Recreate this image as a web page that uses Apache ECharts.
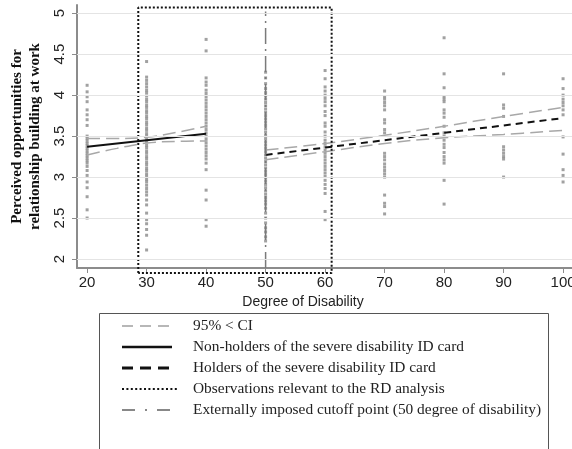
<!DOCTYPE html>
<html>
<head>
<meta charset="utf-8">
<script src="https://cdn.jsdelivr.net/npm/echarts@6/dist/echarts.min.js"></script>
<style>html,body{margin:0;padding:0;background:#fff}#c{width:572px;height:449px}</style>
</head>
<body>
<div id="c"></div>
<script>
// ---- data ----
const xTicks = [20, 30, 40, 50, 60, 70, 80, 90, 100];
const yTicks = [2, 2.5, 3, 3.5, 4, 4.5, 5];

const obs20 = [4.12, 4.04, 3.98, 3.92, 3.82, 3.76, 3.70, 3.63, 3.50, 3.47, 3.44, 3.41, 3.38, 3.35, 3.32, 3.29, 3.26, 3.23, 3.20, 3.17, 3.13, 3.08, 3.02, 2.94, 2.87, 2.76, 2.60, 2.50];
const obs30 = [4.41, 4.22, 4.18, 4.14, 4.10, 4.06, 4.03, 3.99, 3.95, 3.92, 3.88, 3.85, 3.81, 3.78, 3.74, 3.71, 3.67, 3.64, 3.60, 3.57, 3.53, 3.50, 3.46, 3.43, 3.39, 3.36, 3.32, 3.29, 3.25, 3.22, 3.18, 3.15, 3.11, 3.08, 3.04, 3.01, 2.97, 2.94, 2.90, 2.86, 2.82, 2.78, 2.72, 2.66, 2.56, 2.48, 2.43, 2.36, 2.29, 2.11];
const obs40 = [4.68, 4.54, 4.21, 4.16, 4.12, 4.06, 4.02, 3.98, 3.94, 3.90, 3.86, 3.82, 3.78, 3.74, 3.70, 3.66, 3.62, 3.58, 3.54, 3.50, 3.46, 3.42, 3.38, 3.34, 3.30, 3.26, 3.22, 3.17, 3.09, 2.84, 2.72, 2.48, 2.40];
const obs50 = [4.28, 4.21, 4.14, 4.08, 4.03, 3.99, 3.95, 3.91, 3.87, 3.83, 3.79, 3.75, 3.71, 3.67, 3.63, 3.59, 3.55, 3.51, 3.47, 3.43, 3.39, 3.35, 3.31, 3.27, 3.23, 3.19, 3.15, 3.11, 3.07, 3.03, 2.99, 2.95, 2.91, 2.87, 2.83, 2.79, 2.75, 2.71, 2.67, 2.62, 2.56, 2.50, 2.44, 2.38, 2.33, 2.27, 2.22];
const obs60 = [4.30, 4.20, 4.10, 4.05, 4.00, 3.96, 3.92, 3.87, 3.80, 3.75, 3.66, 3.62, 3.55, 3.50, 3.45, 3.41, 3.37, 3.33, 3.29, 3.25, 3.21, 3.17, 3.13, 3.09, 3.05, 3.01, 2.96, 2.91, 2.86, 2.80, 2.58, 2.48];
const obs70 = [4.05, 3.98, 3.95, 3.91, 3.87, 3.82, 3.70, 3.66, 3.58, 3.54, 3.29, 3.25, 3.21, 3.16, 3.12, 3.08, 3.04, 3.00, 2.78, 2.68, 2.64, 2.55];
const obs80 = [4.70, 4.26, 4.09, 3.98, 3.95, 3.92, 3.82, 3.78, 3.73, 3.62, 3.54, 3.50, 3.45, 3.40, 3.36, 3.30, 3.25, 3.21, 3.17, 2.96, 2.67];
const obs90 = [4.26, 3.88, 3.84, 3.74, 3.37, 3.33, 3.29, 3.25, 3.22, 3.00];
const obs100 = [4.20, 4.08, 4.00, 3.95, 3.91, 3.87, 3.82, 3.76, 3.49, 3.28, 3.09, 3.02, 2.94];

const nonHolderX = [20, 40];
const nonHolderY = [3.37, 3.53];
const nonHolderCIX = [20, 25, 30, 35, 40];
const nonHolderUpper = [3.47, 3.47, 3.485, 3.545, 3.62];
const nonHolderLower = [3.27, 3.35, 3.415, 3.435, 3.44];

const holderX = [50, 100];
const holderY = [3.27, 3.72];
const holderCIX = [50, 60, 70, 80, 90, 100];
const holderUpper = [3.33, 3.41, 3.51, 3.62, 3.74, 3.85];
const holderLower = [3.21, 3.31, 3.41, 3.48, 3.52, 3.57];

const rdBoxX = [28.6, 28.6, 61.1, 61.1, 28.6];
const rdBoxY = [1.83, 5.07, 5.07, 1.83, 1.83];
const cutoffX = [50, 50];
const cutoffY = [1.89, 5.02];

const legendLabels = [
  '95% < CI',
  'Non-holders of the severe disability ID card',
  'Holders of the severe disability ID card',
  'Observations relevant to the RD analysis',
  'Externally imposed cutoff point (50 degree of disability)'
];

// ---- build ----
const cols = [[20, obs20], [30, obs30], [40, obs40], [50, obs50], [60, obs60], [70, obs70], [80, obs80], [90, obs90], [100, obs100]];
const scatterData = [];
cols.forEach(([x, arr]) => arr.forEach(v => scatterData.push([x, v])));
const zip = (xs, ys) => xs.map((x, i) => [x, ys[i]]);

const chart = echarts.init(document.getElementById('c'), null, {renderer: 'canvas'});
const SANS = 'Liberation Sans';
const SERIF = 'Liberation Serif';

const ciStyle = {color: '#a8a8a8', width: 1.5, type: [13, 6]};

const option = {
  animation: false,
  backgroundColor: '#fff',
  grid: {left: 77, right: 0, top: 5, height: 263, containLabel: false, outerBoundsMode: 'none'},
  xAxis: {
    type: 'value', min: 18.3, max: 101.5,
    name: 'Degree of Disability', nameLocation: 'middle', nameGap: 22,
    nameTextStyle: {fontFamily: SANS, fontSize: 14, color: '#222', padding: [0, 43, 0, 0]},
    axisLine: {show: true, lineStyle: {color: '#8c8c8c', width: 2}},
    axisTick: {show: true, customValues: xTicks, length: 5, lineStyle: {color: '#8c8c8c', width: 1}},
    axisLabel: {customValues: xTicks, fontFamily: SANS, fontSize: 15, color: '#222', margin: 7},
    splitLine: {show: false}
  },
  yAxis: {
    type: 'value', min: 1.89, max: 5.1,
    name: 'Perceived opportunities for\nrelationship building at work',
    nameLocation: 'middle', nameGap: 28, nameRotate: 90,
    nameTextStyle: {fontFamily: SERIF, fontWeight: 'bold', fontSize: 15, color: '#111', lineHeight: 18},
    axisLine: {show: true, lineStyle: {color: '#8c8c8c', width: 2}},
    axisTick: {show: true, customValues: yTicks, length: 5, lineStyle: {color: '#8c8c8c', width: 1}},
    axisLabel: {customValues: yTicks, rotate: 90, fontFamily: '"Liberation Sans Narrow", "Liberation Sans"', fontSize: 15, color: '#222', margin: 10},
    splitLine: {show: false}
  },
  series: [
    {
      type: 'line', data: [], silent: true,
      markLine: {
        silent: true, symbol: 'none', label: {show: false},
        lineStyle: {color: '#e4e4e4', width: 1.2, type: 'solid'},
        data: yTicks.map(v => ({yAxis: v}))
      }
    },
    {
      type: 'scatter', data: scatterData, symbol: 'rect', symbolSize: 3,
      itemStyle: {color: '#8a8a8a'}, silent: true
    },
    {type: 'line', data: zip(nonHolderCIX, nonHolderUpper), smooth: 0.4, showSymbol: false, lineStyle: ciStyle},
    {type: 'line', data: zip(nonHolderCIX, nonHolderLower), smooth: 0.4, showSymbol: false, lineStyle: ciStyle},
    {type: 'line', data: zip(holderCIX, holderUpper), smooth: 0.4, showSymbol: false, lineStyle: ciStyle},
    {type: 'line', data: zip(holderCIX, holderLower), smooth: 0.4, showSymbol: false, lineStyle: ciStyle},
    {type: 'line', data: zip(nonHolderX, nonHolderY), showSymbol: false, lineStyle: {color: '#111', width: 2}},
    {type: 'line', data: zip(holderX, holderY), showSymbol: false, lineStyle: {color: '#111', width: 2, type: [7, 5]}},
    {type: 'line', data: zip(cutoffX, cutoffY), showSymbol: false, clip: false, lineStyle: {color: '#7a7a7a', width: 1.5, type: [16, 5, 2, 5]}},
    {type: 'line', data: zip(rdBoxX, rdBoxY), showSymbol: false, clip: false, lineStyle: {color: '#111', width: 2, type: [2, 2]}}
  ],
  graphic: (function () {
    const g = [];
    g.push({type: 'rect', shape: {x: 99.5, y: 313.5, width: 449, height: 150}, style: {fill: 'none', stroke: '#555', lineWidth: 1}});
    const rows = [326, 347, 368, 389, 410];
    const lineStyles = [
      {stroke: '#a0a0a0', lineWidth: 1.5, lineDash: [11, 7], x2: 172},
      {stroke: '#111', lineWidth: 2.5, lineDash: null, x2: 172},
      {stroke: '#111', lineWidth: 3, lineDash: [11, 7], x2: 176},
      {stroke: '#111', lineWidth: 2, lineDash: [2, 2.4], x2: 178},
      {stroke: '#888', lineWidth: 2, lineDash: [13, 10, 2, 10], x2: 171}
    ];
    rows.forEach((y, i) => {
      const s = lineStyles[i];
      g.push({type: 'line', shape: {x1: 122, y1: y, x2: s.x2, y2: y},
        style: {stroke: s.stroke, lineWidth: s.lineWidth, lineDash: s.lineDash}});
      g.push({type: 'text', x: 193, y: y, style: {text: legendLabels[i], font: '15.4px "Liberation Serif"', fill: '#222', verticalAlign: 'middle', align: 'left'}});
    });
    return g;
  })()
};
chart.setOption(option);
</script>
</body>
</html>
